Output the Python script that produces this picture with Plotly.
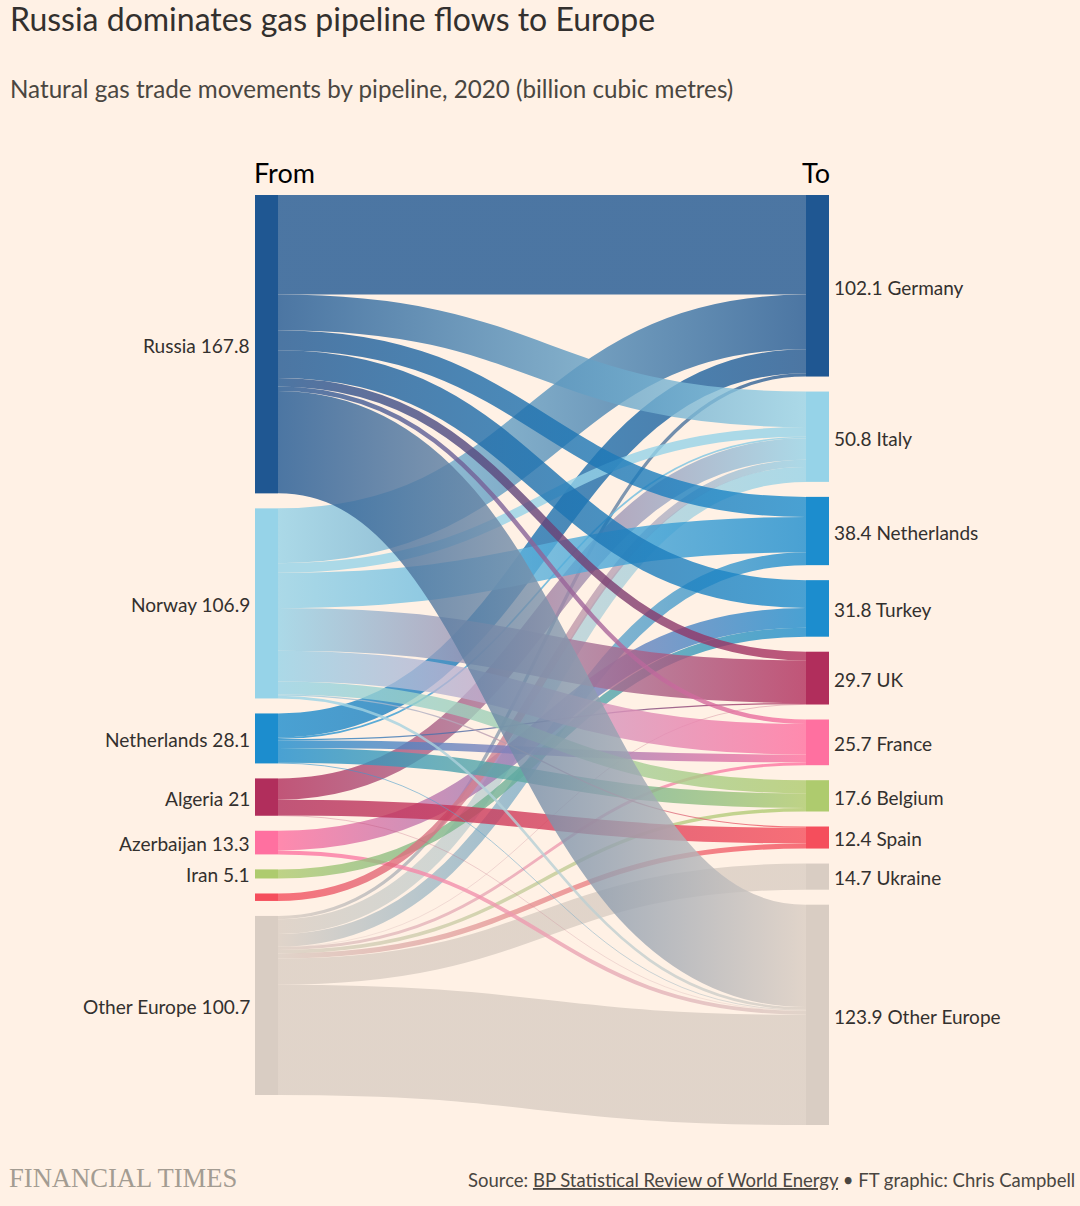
import json
import plotly.graph_objects as go

W, H = 1080, 1206
BG = "#fff1e5"

from_names = ["Russia", "Norway", "Netherlands", "Algeria", "Azerbaijan", "Iran", "Libya", "Other Europe"]
from_totals = ["167.8", "106.9", "28.1", "21", "13.3", "5.1", "", "100.7"]
from_colors = ["#1f5792", "#96d3e8", "#1c8dce", "#b12e5c", "#ff70a0", "#aecb6e", "#f54e5c", "#d9cdc3"]

to_names = ["Germany", "Italy", "Netherlands", "Turkey", "UK", "France", "Belgium", "Spain", "Ukraine", "Other Europe"]
to_totals = ["102.1", "50.8", "38.4", "31.8", "29.7", "25.7", "17.6", "12.4", "14.7", "123.9"]
to_colors = ["#1f5792", "#96d3e8", "#1c8dce", "#1c8dce", "#b12e5c", "#ff70a0", "#aecb6e", "#f54e5c", "#d9cdc3", "#d9cdc3"]

# flows[source name] = {target name: bcm}
russia = {"Germany": 56.0, "Italy": 20.0, "Netherlands": 11.3, "Turkey": 15.6, "UK": 4.8, "France": 2.5, "Other Europe": 57.6}
norway = {"Germany": 30.8, "Italy": 5.4, "Netherlands": 19.9, "UK": 24.0, "France": 17.2, "Belgium": 7.4, "Spain": 0.7, "Other Europe": 1.5}
netherlands = {"Germany": 13.5, "Italy": 0.9, "UK": 0.7, "France": 4.4, "Belgium": 8.2, "Other Europe": 0.4}
algeria = {"Italy": 12.0, "Spain": 8.8, "Other Europe": 0.2}
azerbaijan = {"Turkey": 11.1, "Other Europe": 2.2}
iran = {"Turkey": 5.1}
libya = {"Italy": 4.2}
other = {"Germany": 1.8, "Italy": 8.3, "Netherlands": 7.2, "UK": 0.2, "France": 1.6, "Belgium": 2.0, "Spain": 2.9, "Ukraine": 14.7, "Other Europe": 62.0}

# drawing order, last on top
draw_order = [("Other Europe", other), ("Azerbaijan", azerbaijan), ("Iran", iran), ("Libya", libya),
              ("Algeria", algeria), ("Netherlands", netherlands), ("Norway", norway), ("Russia", russia)]

n_from = len(from_names)
src, tgt, val = [], [], []
for name, flows in draw_order:
    for t, v in flows.items():
        src.append(from_names.index(name))
        tgt.append(n_from + to_names.index(t))
        val.append(v)

# chart area in pixels
LEFT, RIGHT, TOP, BOTTOM = 255, 829, 195, 1125
PAD, THICK = 15, 23
plot_h = BOTTOM - TOP
plot_w = RIGHT - LEFT

from_sum = [sum(v for s, v in zip(src, val) if s == i) for i in range(n_from)]
to_sum = [sum(v for t, v in zip(tgt, val) if t == i + n_from) for i in range(len(to_names))]
ky = (plot_h - (len(to_names) - 1) * PAD) / sum(to_sum)


def stack(sums):
    tops, centres, cur = [], [], 0.0
    for s in sums:
        h = s * ky
        tops.append(cur)
        centres.append((cur + h / 2) / plot_h)
        cur += h + PAD
    return tops, centres


from_tops, from_y = stack(from_sum)
to_tops, to_y = stack(to_sum)


def rgba(hex_c, a):
    r, g, b = int(hex_c[1:3], 16), int(hex_c[3:5], 16), int(hex_c[5:7], 16)
    return f"rgba({r},{g},{b},{a})"


node_colors = from_colors + to_colors
LINK_ALPHA = 0.8
half = THICK / 2 / plot_w

fig = go.Figure(go.Sankey(
    arrangement="fixed",
    domain=dict(x=[LEFT / W, RIGHT / W], y=[1 - BOTTOM / H, 1 - TOP / H]),
    node=dict(
        pad=PAD, thickness=THICK, line=dict(width=0),
        x=[half] * n_from + [1 - half] * len(to_names),
        y=from_y + to_y,
        color=node_colors,
        label=[""] * len(node_colors),
        customdata=from_names + to_names,
        hovertemplate="%{customdata}: %{value}<extra></extra>",
    ),
    link=dict(source=src, target=tgt, value=val,
              color=[rgba(node_colors[s], LINK_ALPHA) for s in src],
              hoverinfo="skip"),
))

ann = []
TEXT = "#33302e"
FONT = "Lato"


def label(x, ypx, text, anchor, size=19, family=FONT, color=TEXT):
    # annotations carry about 3px of built-in padding
    shift = {"left": -3, "right": 3}[anchor]
    ann.append(dict(x=x / W, y=1 - ypx / H, xref="paper", yref="paper", text=text, showarrow=False,
                    xanchor=anchor, yanchor="middle", font=dict(family=family, size=size, color=color),
                    xshift=shift, align=anchor))


for name, total, t, s in zip(from_names, from_totals, from_tops, from_sum):
    if total:
        label(249.3, TOP + t + s * ky / 2 + 1, f"{name} {total}", "right", 19.1)
for name, total, t, s in zip(to_names, to_totals, to_tops, to_sum):
    label(835, TOP + t + s * ky / 2 + 1.3, f"{total} {name}", "left")

label(11, 18, "Russia dominates gas pipeline flows to Europe", "left", 32)
label(11, 88, "Natural gas trade movements by pipeline, 2020 (billion cubic metres)", "left", 24.2, color="#4a4641")
label(255, 173, "From", "left", 27, color="#000000")
label(828.5, 173, "To", "right", 27, color="#000000")
label(10, 1178, "FINANCIAL TIMES", "left", 26.6, family="Liberation Serif", color="#a39c92")
label(1073.5, 1180, "Source: <u>BP Statistical Review of World Energy</u> • FT graphic: Chris Campbell", "right", 18.5, color="#4a4641")

fig.update_layout(width=W, height=H, margin=dict(l=0, r=0, t=0, b=0, pad=0), autosize=False,
                  paper_bgcolor=BG, plot_bgcolor=BG, annotations=ann, showlegend=False,
                  font=dict(family=FONT, color=TEXT))

# Ribbons: same layout numbers plotly computed, drawn as constant-width strokes
# fading from source colour to target colour.
grad_pairs = [[node_colors[s], node_colors[t]] for s, t in zip(src, tgt)]
post = """
document.body.style.margin='0';
document.body.style.background='%s';
var pairs=%s, linkAlpha=%s;
function applyGrad(){
  var links=document.querySelectorAll('.sankey-link');
  links.forEach(function(el,i){
    var p=pairs[i], dat=el.__data__; if(!p||!dat||!dat.link) return;
    var l=dat.link, x0=l.source.x1, x1=l.target.x0, xm=(x0+x1)/2, y0=l.y0, y1=l.y1;
    var svg=el.ownerSVGElement, id='lg'+i, ns='http://www.w3.org/2000/svg';
    var g=document.getElementById(id);
    if(!g){
      var defs=document.createElementNS(ns,'defs');
      g=document.createElementNS(ns,'linearGradient');
      g.setAttribute('id',id);
      g.setAttribute('gradientUnits','userSpaceOnUse');
      [[0,p[0]],[1,p[1]]].forEach(function(s){
        var st=document.createElementNS(ns,'stop');
        st.setAttribute('offset',s[0]);st.setAttribute('stop-color',s[1]);g.appendChild(st);
      });
      defs.appendChild(g);svg.appendChild(defs);
    }
    g.setAttribute('x1',x0);g.setAttribute('x2',x1);g.setAttribute('y1',0);g.setAttribute('y2',0);
    el.setAttribute('d','M'+x0+','+y0+'C'+xm+','+y0+' '+xm+','+y1+' '+x1+','+y1);
    el.style.setProperty('fill','none','important');
    el.style.setProperty('stroke','url(#'+id+')','important');
    el.style.setProperty('stroke-width',l.width+'px','important');
    el.style.setProperty('stroke-opacity',linkAlpha,'important');
  });
}
applyGrad();[50,200,500,800,1000,1500].forEach(function(t){setTimeout(applyGrad,t);});
""" % (BG, json.dumps(grad_pairs), LINK_ALPHA)

fig.write_html("out.html", post_script=post, config=dict(displayModeBar=False),
               default_width="1080px", default_height="1206px")
